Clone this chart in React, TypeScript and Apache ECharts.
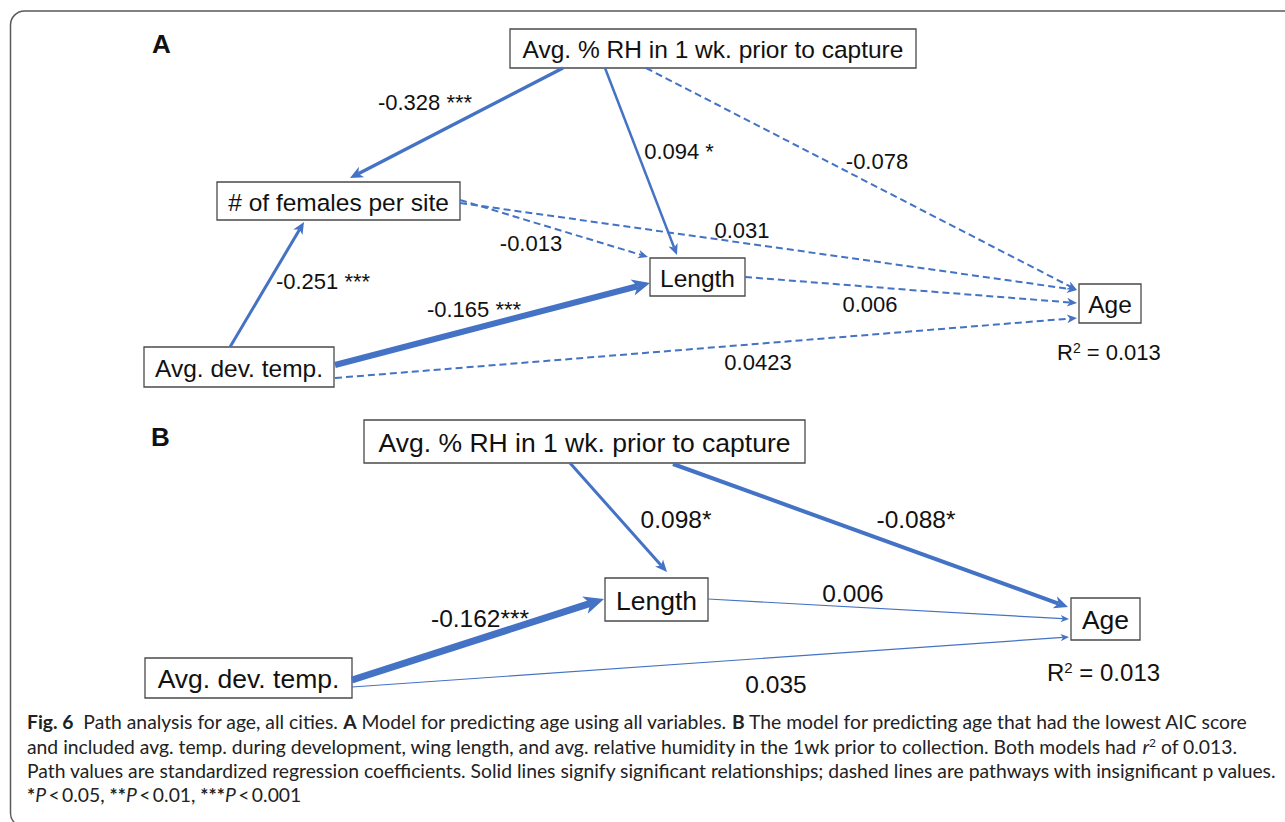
import React, { useEffect, useRef } from "react";
import * as echarts from "echarts";

// ---------- Data: Panel A (all variables) ----------
const nodesA = [
  "Avg. % RH in 1 wk. prior to capture",
  "# of females per site",
  "Avg. dev. temp.",
  "Length",
  "Age",
];
const fromA = [0, 2, 2, 2, 1, 1, 0, 0, 3];
const toA = [1, 1, 3, 4, 3, 4, 3, 4, 4];
const coefA = ["-0.328", "-0.251", "-0.165", "0.0423", "-0.013", "0.031", "0.094", "-0.078", "0.006"];
const sigA = ["***", "***", "***", "", "", "", "*", "", ""];
const r2A = "0.013";

// ---------- Data: Panel B (lowest AIC model) ----------
const nodesB = ["Avg. % RH in 1 wk. prior to capture", "Length", "Age", "Avg. dev. temp."];
const fromB = [0, 0, 3, 1, 3];
const toB = [1, 2, 1, 2, 2];
const coefB = ["0.098", "-0.088", "-0.162", "0.006", "0.035"];
const sigB = ["*", "*", "***", "", ""];
const r2B = "0.013";

// ---------- Layout (page pixels, kept apart from the data) ----------
const boxA = [
  [510, 29, 406, 39],
  [217, 182, 243, 38],
  [144, 347, 190, 40],
  [650, 258, 95, 38],
  [1079, 284, 62, 39],
];
const edgePtsA = [
  [563, 68, 350, 178],
  [230, 347, 304, 222],
  [335, 365, 650, 283],
  [335, 378, 1077, 318],
  [460, 200, 648, 257],
  [460, 203, 1077, 290],
  [605, 68, 677, 255],
  [646, 68, 1077, 290],
  [745, 277, 1077, 303],
];
const edgeWidthA = [3.5, 3, 6, 2, 2, 2, 2.5, 2, 2];
const labelPosA = [
  [425, 102],
  [323, 281],
  [474, 309],
  [758, 362],
  [531, 243],
  [742, 230],
  [679, 151],
  [877, 161],
  [870, 304],
];

const boxB = [
  [364, 420, 441, 43],
  [605, 578, 103, 43],
  [1071, 598, 69, 42],
  [145, 658, 207, 40],
];
const edgePtsB = [
  [570, 463, 667, 572],
  [673, 464, 1068, 607],
  [352, 680, 604, 599],
  [708, 599, 1069, 619],
  [352, 687, 1069, 637],
];
const edgeWidthB = [3, 4, 7, 1.2, 1.2];
const labelPosB = [
  [676, 519],
  [916, 519],
  [480, 618],
  [853, 593],
  [776, 684],
];

const captionLines = [
  "{b|Fig. 6}  Path analysis for age, all cities. {b|A} Model for predicting age using all variables. {b|B} The model for predicting age that had the lowest AIC score",
  "and included avg. temp. during development, wing length, and avg. relative humidity in the 1wk prior to collection. Both models had {i|r}{s|2} of 0.013.",
  "Path values are standardized regression coefficients. Solid lines signify significant relationships; dashed lines are pathways with insignificant p values.",
  "{b|*}{i|P}\u2009<\u20090.05, {b|**}{i|P}\u2009<\u20090.01, {b|***}{i|P}\u2009<\u20090.001",
];
const captionY = [721, 746, 770, 794];

const BLUE = "#4472C4";
const DIAG_FONT = '"Liberation Sans", Arial, Helvetica, sans-serif';
const CAP_FONT = "Lato";

type Box = { x: number; y: number; w: number; h: number; text: string; fs: number };
type Edge = { pts: number[]; width: number; dashed: boolean; label: string; lp: number[]; fs: number };

function buildBoxes(): Box[] {
  const out: Box[] = [];
  nodesA.forEach((t, i) => out.push({ x: boxA[i][0], y: boxA[i][1], w: boxA[i][2], h: boxA[i][3], text: t, fs: 24.5 }));
  nodesB.forEach((t, i) => out.push({ x: boxB[i][0], y: boxB[i][1], w: boxB[i][2], h: boxB[i][3], text: t, fs: 26.5 }));
  return out;
}

function buildEdges(): Edge[] {
  const out: Edge[] = [];
  coefA.forEach((c, i) => {
    void fromA[i];
    void toA[i];
    out.push({
      pts: edgePtsA[i],
      width: edgeWidthA[i],
      dashed: sigA[i] === "",
      label: sigA[i] ? `${c} ${sigA[i]}` : c,
      lp: labelPosA[i],
      fs: 22,
    });
  });
  coefB.forEach((c, i) => {
    void fromB[i];
    void toB[i];
    out.push({
      pts: edgePtsB[i],
      width: edgeWidthB[i],
      dashed: false,
      label: `${c}${sigB[i]}`,
      lp: labelPosB[i],
      fs: 24.5,
    });
  });
  return out;
}

function fitSize(text: string, family: string, target: number, fallback: number) {
  try {
    const ctx = document.createElement("canvas").getContext("2d");
    if (!ctx) return fallback;
    ctx.font = `normal 100px ${family}`;
    const w = ctx.measureText(text).width;
    if (!w) return fallback;
    return (100 * target) / w;
  } catch (e) {
    return fallback;
  }
}

export default function App() {
  const ref = useRef<HTMLDivElement>(null);

  useEffect(() => {
    if (!ref.current) return;
    const chart = echarts.init(ref.current, undefined, { renderer: "svg" });
    const boxes = buildBoxes();
    const edges = buildEdges();

    const capFs = fitSize(captionLines[2], CAP_FONT, 1251, 16.8);
    const rich = {
      b: { fontFamily: CAP_FONT, fontSize: capFs, fontWeight: "bold", fill: "#222" },
      i: { fontFamily: CAP_FONT, fontSize: capFs, fontStyle: "italic", fill: "#222" },
      s: { fontFamily: CAP_FONT, fontSize: capFs * 0.62, verticalAlign: "top", lineHeight: capFs * 0.8, fill: "#222" },
    };

    const graphics: any[] = [
      {
        type: "rect",
        shape: { x: 10.5, y: 11, width: 1300, height: 816, r: 14 },
        style: { fill: "none", stroke: "#5a5a5a", lineWidth: 1.5 },
        silent: true,
      },
      {
        type: "text",
        x: 152,
        y: 44,
        style: { text: "A", fontFamily: DIAG_FONT, fontSize: 26, fontWeight: "bold", fill: "#111", verticalAlign: "middle" },
      },
      {
        type: "text",
        x: 151,
        y: 437,
        style: { text: "B", fontFamily: DIAG_FONT, fontSize: 26, fontWeight: "bold", fill: "#111", verticalAlign: "middle" },
      },
      {
        type: "text",
        x: 1057,
        y: 352,
        style: {
          text: `R{s|2} = ${r2A}`,
          fontFamily: DIAG_FONT,
          fontSize: 22,
          fill: "#111",
          verticalAlign: "middle",
          rich: { s: { fontFamily: DIAG_FONT, fontSize: 14, verticalAlign: "top", lineHeight: 16, fill: "#111" } },
        },
      },
      {
        type: "text",
        x: 1047,
        y: 672,
        style: {
          text: `R{s|2} = ${r2B}`,
          fontFamily: DIAG_FONT,
          fontSize: 24,
          fill: "#111",
          verticalAlign: "middle",
          rich: { s: { fontFamily: DIAG_FONT, fontSize: 15, verticalAlign: "top", lineHeight: 17, fill: "#111" } },
        },
      },
    ];
    captionLines.forEach((t, i) => {
      graphics.push({
        type: "text",
        x: 27,
        y: captionY[i],
        style: {
          text: t,
          fontFamily: CAP_FONT,
          fontSize: capFs,
          fill: "#222",
          verticalAlign: "middle",
          rich,
        },
      });
    });

    chart.setOption({
      animation: false,
      backgroundColor: "#ffffff",
      grid: { left: 0, right: 0, top: 0, bottom: 0, containLabel: false },
      xAxis: { type: "value", min: 0, max: 1285, show: false },
      yAxis: { type: "value", min: 0, max: 822, inverse: true, show: false },
      graphic: graphics,
      series: [
        {
          type: "custom",
          name: "boxes",
          clip: false,
          silent: true,
          data: boxes.map((b) => [b.x, b.y, b.x + b.w, b.y + b.h]),
          encode: { x: [0, 2], y: [1, 3] },
          renderItem: (params: any, api: any) => {
            const b = boxes[params.dataIndex];
            const p = api.coord([b.x, b.y]);
            const q = api.coord([b.x + b.w, b.y + b.h]);
            return {
              type: "group",
              children: [
                {
                  type: "rect",
                  shape: { x: p[0], y: p[1], width: q[0] - p[0], height: q[1] - p[1] },
                  style: { fill: "#ffffff", stroke: "#4a4a4a", lineWidth: 1.3 },
                },
                {
                  type: "text",
                  x: (p[0] + q[0]) / 2,
                  y: (p[1] + q[1]) / 2 + 1,
                  style: {
                    text: b.text,
                    fontFamily: DIAG_FONT,
                    fontSize: b.fs,
                    fill: "#111",
                    align: "center",
                    verticalAlign: "middle",
                  },
                },
              ],
            };
          },
        },
        {
          type: "custom",
          name: "paths",
          clip: false,
          silent: true,
          data: edges.map((e) => e.pts),
          encode: { x: [0, 2], y: [1, 3] },
          renderItem: (params: any, api: any) => {
            const e = edges[params.dataIndex];
            const a = api.coord([e.pts[0], e.pts[1]]);
            const b = api.coord([e.pts[2], e.pts[3]]);
            const dx = b[0] - a[0];
            const dy = b[1] - a[1];
            const len = Math.hypot(dx, dy) || 1;
            const ux = dx / len;
            const uy = dy / len;
            const px = -uy;
            const py = ux;
            const L = 6 + 2 * e.width;
            const W = 5 + 1.9 * e.width;
            const bx = b[0] - ux * L;
            const by = b[1] - uy * L;
            const nx = b[0] - ux * L * 0.72;
            const ny = b[1] - uy * L * 0.72;
            const lineStyle: any = { stroke: BLUE, lineWidth: e.width, fill: null };
            if (e.dashed) lineStyle.lineDash = [7, 4];
            return {
              type: "group",
              children: [
                { type: "line", shape: { x1: a[0], y1: a[1], x2: nx, y2: ny }, style: lineStyle },
                {
                  type: "polygon",
                  shape: {
                    points: [
                      [b[0], b[1]],
                      [bx + (px * W) / 2, by + (py * W) / 2],
                      [nx, ny],
                      [bx - (px * W) / 2, by - (py * W) / 2],
                    ],
                  },
                  style: { fill: BLUE, stroke: null },
                },
              ],
            };
          },
        },
        {
          type: "custom",
          name: "coefficients",
          clip: false,
          silent: true,
          data: edges.map((e) => e.lp),
          encode: { x: 0, y: 1 },
          renderItem: (params: any, api: any) => {
            const e = edges[params.dataIndex];
            const p = api.coord([e.lp[0], e.lp[1]]);
            return {
              type: "text",
              x: p[0],
              y: p[1],
              style: {
                text: e.label,
                fontFamily: DIAG_FONT,
                fontSize: e.fs,
                fill: "#111",
                align: "center",
                verticalAlign: "middle",
              },
            };
          },
        },
      ],
    });

    return () => chart.dispose();
  }, []);

  return (
    <div
      ref={ref}
      style={{ position: "absolute", left: 0, top: 0, width: 1285, height: 822, background: "#fff" }}
    />
  );
}
